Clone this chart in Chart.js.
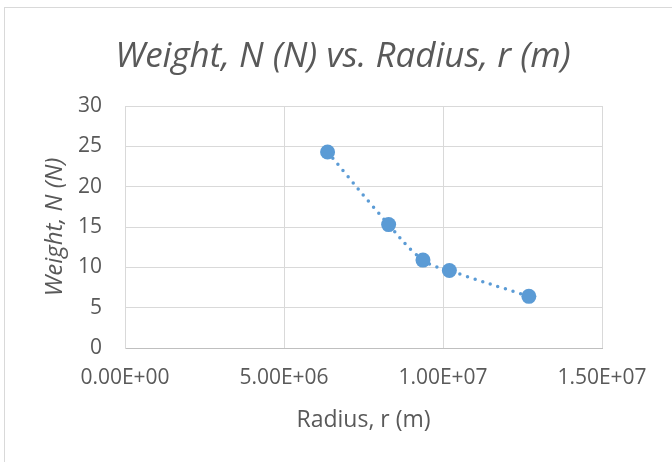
<!DOCTYPE html>
<html>
<head>
<meta charset="utf-8">
<script src="https://cdn.jsdelivr.net/npm/chart.js@4.4.1/dist/chart.umd.min.js"></script>
<style>
    body { margin: 0; background: #ffffff; }
    #wrap { position: relative; width: 672px; height: 462px; overflow: hidden; }
    #frame { position: absolute; left: 4px; top: 7px; width: 720px; height: 520px; border: 1px solid #d9d9d9; }
    #chart { position: absolute; left: 0; top: 0; }
</style>
</head>
<body>
<div id="wrap">
    <div id="frame"></div>
    <canvas id="chart" width="672" height="462"></canvas>
</div>
<script>
    // values
    var radius = [6.37e6, 8.29e6, 9.37e6, 1.02e7, 1.27e7];
    var weight = [24.3, 15.3, 10.9, 9.6, 6.4];

    var xTicks = [0, 5e6, 1e7, 1.5e7];
    var yTicks = [0, 5, 10, 15, 20, 25, 30];

    var textColor = '#595959';
    var gridColor = '#d9d9d9';
    var pointColor = '#5b9bd5';
    var fontFamily = '"Open Sans", sans-serif';

    function sci(v) {
        if (v === 0) return '0.00E+00';
        var e = Math.floor(Math.log10(Math.abs(v)));
        var m = v / Math.pow(10, e);
        return m.toFixed(2) + 'E' + (e < 0 ? '-' : '+') + String(Math.abs(e)).padStart(2, '0');
    }

    var points = radius.map(function (r, i) {
        return { x: r, y: weight[i] };
    });

    var ctx = document.getElementById('chart');

    new Chart(ctx, {
        type: 'scatter',
        data: {
            datasets: [{
                label: 'Weight',
                data: points,
                showLine: true,
                tension: 0.4,
                borderColor: pointColor,
                borderWidth: 3.5,
                borderDash: [0, 8],
                borderCapStyle: 'round',
                backgroundColor: pointColor,
                pointRadius: 7.5,
                pointBorderWidth: 0,
                pointBackgroundColor: pointColor
            }]
        },
        options: {
            responsive: false,
            devicePixelRatio: 1,
            animation: false,
            layout: {
                padding: { left: 14, right: 0, top: 0, bottom: 0 }
            },
            plugins: {
                legend: { display: false },
                tooltip: { enabled: false },
                title: {
                    display: true,
                    text: 'Weight, N (N) vs. Radius, r (m)',
                    color: textColor,
                    font: { family: fontFamily, size: 35, style: 'italic', weight: 'normal' },
                    padding: { top: 36, bottom: 28 }
                }
            },
            scales: {
                x: {
                    type: 'linear',
                    min: 0,
                    max: 1.5e7,
                    afterBuildTicks: function (axis) {
                        axis.ticks = xTicks.map(function (v) { return { value: v }; });
                    },
                    afterFit: function (axis) { axis.height = 114; },
                    ticks: {
                        color: textColor,
                        font: { family: fontFamily, size: 21 },
                        padding: 17,
                        maxRotation: 0,
                        callback: function (v) { return sci(v); }
                    },
                    grid: { color: gridColor, lineWidth: 1, drawTicks: false },
                    border: { color: '#bfbfbf', width: 1 },
                    title: {
                        display: true,
                        text: 'Radius, r (m)',
                        color: textColor,
                        font: { family: fontFamily, size: 23 },
                        padding: { top: 10, bottom: 28 }
                    }
                },
                y: {
                    type: 'linear',
                    min: 0,
                    max: 30,
                    afterBuildTicks: function (axis) {
                        axis.ticks = yTicks.map(function (v) { return { value: v }; });
                    },
                    afterFit: function (axis) { axis.width = 111; },
                    ticks: {
                        color: textColor,
                        font: { family: fontFamily, size: 21 },
                        padding: 23
                    },
                    grid: { color: gridColor, lineWidth: 1, drawTicks: false },
                    border: { color: gridColor, width: 1 },
                    title: {
                        display: true,
                        text: 'Weight, N (N)',
                        color: textColor,
                        font: { family: fontFamily, size: 24, style: 'italic' },
                        padding: { top: 27, bottom: 4 }
                    }
                },
                // empty right-hand axis, only reserves the space right of the plot
                yRight: {
                    type: 'linear',
                    position: 'right',
                    display: true,
                    afterFit: function (axis) { axis.width = 70; },
                    ticks: { display: false },
                    grid: { display: false },
                    border: { display: false }
                }
            }
        }
    });
</script>
</body>
</html>
